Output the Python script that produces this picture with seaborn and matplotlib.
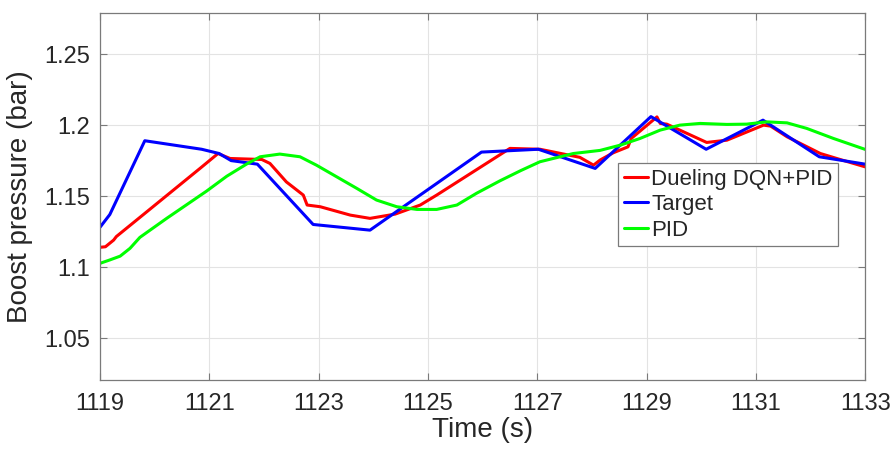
import numpy as np
import pandas as pd
import matplotlib
matplotlib.use("Agg")
import matplotlib.pyplot as plt
import seaborn as sns

# Boost pressure traces (time in s, pressure in bar)
t_dqn = [1119.0, 1119.1, 1119.25, 1119.3, 1119.82, 1120.83, 1121.16, 1121.38, 1121.96,
         1122.11, 1122.41, 1122.72, 1122.79, 1123.03, 1123.58, 1123.94, 1124.4, 1124.86,
         1125.16, 1126.5, 1127.05, 1127.78, 1128.03, 1128.15, 1128.39, 1128.66, 1128.72,
         1129.19, 1129.25, 1129.37, 1130.1, 1130.47, 1131.14, 1131.27, 1131.57, 1132.18,
         1132.54, 1133.0]
p_dqn = [1.1139, 1.1143, 1.119, 1.1215, 1.1378, 1.1695, 1.180, 1.1765, 1.1758,
         1.173, 1.160, 1.1507, 1.1437, 1.1425, 1.1366, 1.1343, 1.1373, 1.1437,
         1.1507, 1.1836, 1.183, 1.1773, 1.1718, 1.1754, 1.1805, 1.1847, 1.1906,
         1.2058, 1.2012, 1.2007, 1.1878, 1.1894, 1.2, 1.1993, 1.1918, 1.18,
         1.1758, 1.1706]

t_target = [1119.0, 1119.18, 1119.82, 1120.86, 1121.18, 1121.4, 1121.88, 1122.9, 1123.94,
            1125.98, 1127.02, 1128.06, 1129.08, 1130.09, 1131.13, 1132.16, 1133.0]
p_target = [1.128, 1.137, 1.189, 1.183, 1.180, 1.175, 1.1725, 1.130, 1.126,
            1.181, 1.183, 1.1695, 1.206, 1.183, 1.2035, 1.1777, 1.1725]

t_pid = [1119.0, 1119.18, 1119.37, 1119.55, 1119.73, 1120.22, 1120.95, 1121.32, 1121.68,
         1121.93, 1122.29, 1122.66, 1122.96, 1123.33, 1123.7, 1124.06, 1124.43, 1124.8,
         1125.16, 1125.53, 1125.89, 1126.32, 1126.7, 1127.05, 1127.66, 1128.15, 1128.52,
         1128.88, 1129.25, 1129.61, 1129.98, 1130.47, 1130.83, 1131.2, 1131.57, 1131.93,
         1132.42, 1133.0]
p_pid = [1.1026, 1.105, 1.1077, 1.1132, 1.1209, 1.1343, 1.1535, 1.164, 1.1725,
         1.1777, 1.1796, 1.1777, 1.1718, 1.1636, 1.1554, 1.1472, 1.1425, 1.1406,
         1.1406, 1.1437, 1.152, 1.1608, 1.168, 1.1742, 1.180, 1.1822, 1.1859,
         1.1906, 1.1965, 1.2, 1.2012, 1.2005, 1.2007, 1.2023, 1.2016, 1.1977,
         1.1906, 1.1829]

series_names = ["Dueling DQN+PID", "Target", "PID"]
series_colors = ["#ff0000", "#0000ff", "#00ff00"]
x_ticks = [1119, 1121, 1123, 1125, 1127, 1129, 1131, 1133]
y_ticks = [1.05, 1.1, 1.15, 1.2, 1.25]
y_tick_labels = ["1.05", "1.1", "1.15", "1.2", "1.25"]

df = pd.concat([
    pd.DataFrame({"Time": t_dqn, "Pressure": p_dqn, "Series": series_names[0]}),
    pd.DataFrame({"Time": t_target, "Pressure": p_target, "Series": series_names[1]}),
    pd.DataFrame({"Time": t_pid, "Pressure": p_pid, "Series": series_names[2]}),
], ignore_index=True)

sns.set_style("ticks")
plt.rcParams["font.family"] = ["Liberation Sans", "DejaVu Sans"]

fig = plt.figure(figsize=(8.95, 4.55), dpi=100)
ax = fig.add_axes([0.1117, 0.1648, 0.855, 0.8066])

sns.lineplot(data=df, x="Time", y="Pressure", hue="Series", hue_order=series_names,
             palette=dict(zip(series_names, series_colors)), sort=False,
             estimator=None, linewidth=2.2, ax=ax)

ax.set_xlim(1119, 1133)
ax.set_ylim(1.0204, 1.279)
ax.set_xticks(x_ticks)
ax.set_xticklabels([str(v) for v in x_ticks])
ax.set_yticks(y_ticks)
ax.set_yticklabels(y_tick_labels)
ax.grid(True, color="#e3e3e3", linewidth=0.8)
ax.set_axisbelow(True)

for s in ax.spines.values():
    s.set_visible(True)
    s.set_color("#7a7a7a")
    s.set_linewidth(0.9)
ax.tick_params(axis="both", direction="in", length=5, width=0.8, color="#7a7a7a",
               labelsize=17, labelcolor="#262626", top=True, right=True, pad=7)
ax.tick_params(axis="x", pad=9)

ax.set_xlabel("Time (s)", fontsize=20, color="#262626", labelpad=2)
ax.set_ylabel("Boost pressure (bar)", fontsize=20, color="#262626", labelpad=8)

leg = ax.legend(loc="upper left", bbox_to_anchor=(0.677, 0.591), borderaxespad=0,
                fontsize=16, frameon=True, fancybox=False, edgecolor="#7a7a7a",
                handlelength=1.1, handletextpad=0.15, borderpad=0.25,
                labelspacing=0.2, framealpha=1)
leg.get_frame().set_linewidth(0.9)
for line in leg.get_lines():
    line.set_linewidth(2.2)

fig.savefig("out.png", dpi=100)
